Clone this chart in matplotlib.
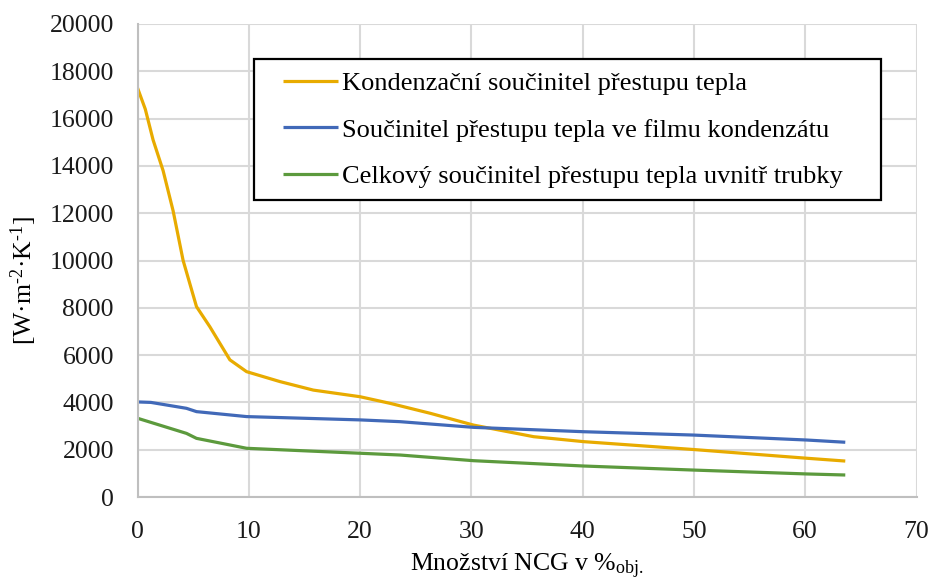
import matplotlib
matplotlib.use("Agg")
import matplotlib.pyplot as plt
from matplotlib.patches import Rectangle

plt.rcParams['font.family'] = ['Liberation Serif', 'DejaVu Serif']
plt.rcParams['mathtext.fontset'] = 'custom'
plt.rcParams['mathtext.rm'] = 'Liberation Serif'
plt.rcParams['mathtext.it'] = 'Liberation Serif:italic'

# Data
x_kond = [0, 0.7, 1.4, 2.3, 3.2, 4.1, 5.3, 6.5, 8.3, 9.8, 12.8, 15.8, 20.0, 22.7, 26.3, 30.2, 35.6, 40.1, 49.9, 60.1, 63.6]
y_kond = [17300, 16400, 15100, 13800, 12100, 10000, 8050, 7200, 5800, 5300, 4880, 4520, 4240, 3960, 3540, 3040, 2550, 2340, 2010, 1640, 1520]

x_film = [0, 1.2, 4.4, 5.3, 9.8, 20.0, 23.6, 30.2, 40.1, 49.9, 60.1, 63.6]
y_film = [4020, 4000, 3750, 3610, 3400, 3260, 3185, 2945, 2760, 2620, 2410, 2315]

x_celk = [0, 4.4, 5.3, 9.8, 20.0, 23.6, 30.2, 40.1, 49.9, 60.1, 63.6]
y_celk = [3330, 2690, 2480, 2060, 1850, 1775, 1535, 1310, 1140, 975, 930]

labels = ["Kondenzační součinitel přestupu tepla",
          "Součinitel přestupu tepla ve filmu kondenzátu",
          "Celkový součinitel přestupu tepla uvnitř trubky"]
colors = ["#E8AB00", "#4169B8", "#5C9A3D"]

x_ticks = [0, 10, 20, 30, 40, 50, 60, 70]
y_ticks = [0, 2000, 4000, 6000, 8000, 10000, 12000, 14000, 16000, 18000, 20000]

FS = 18.5

fig = plt.figure(figsize=(9.32, 5.81), dpi=100)
ax = fig.add_axes([137.5/932, (581-497)/581, 779/932, 473/581])

for xs, ys, lab, c in zip([x_kond, x_film, x_celk], [y_kond, y_film, y_celk], labels, colors):
    ax.plot(xs, ys, color=c, lw=2.3, label=lab, solid_capstyle='butt')

ax.set_xlim(0, 70)
ax.set_ylim(0, 20000)
ax.set_xticks(x_ticks)
ax.set_yticks(y_ticks)
ax.grid(True, color='#d9d9d9', lw=1.5)
ax.set_axisbelow(True)
for s in ['top', 'right']:
    ax.spines[s].set_visible(False)
for s in ['left', 'bottom']:
    ax.spines[s].set_color('#bfbfbf')
    ax.spines[s].set_linewidth(1.5)
ax.tick_params(length=0, labelsize=FS, colors='#1a1a1a')
ax.tick_params(axis='y', pad=17)
ax.tick_params(axis='x', pad=17)

ax.set_ylabel('[W·m$^{\\mathrm{\u20102}}$·K$^{\\mathrm{\u20101}}$]', fontsize=FS)
ax.yaxis.set_label_coords(-0.127, 0.457)
ax.set_xlabel('Množství NCG v %$_{\\mathrm{obj.}}$', fontsize=FS, labelpad=7)

# legend frame
ax.add_patch(Rectangle((0.1496, 0.628), 0.9544 - 0.1496, 0.926 - 0.628, transform=ax.transAxes,
                       facecolor='white', edgecolor='black', lw=1.6, zorder=4))
leg = ax.legend(loc='center left', bbox_to_anchor=(0.1864, 0.776), fontsize=19,
                frameon=False, handlelength=2.1, handletextpad=0.15, labelspacing=0.88,
                borderpad=0, borderaxespad=0)
leg.set_zorder(5)

fig.savefig('out.png', dpi=100)
